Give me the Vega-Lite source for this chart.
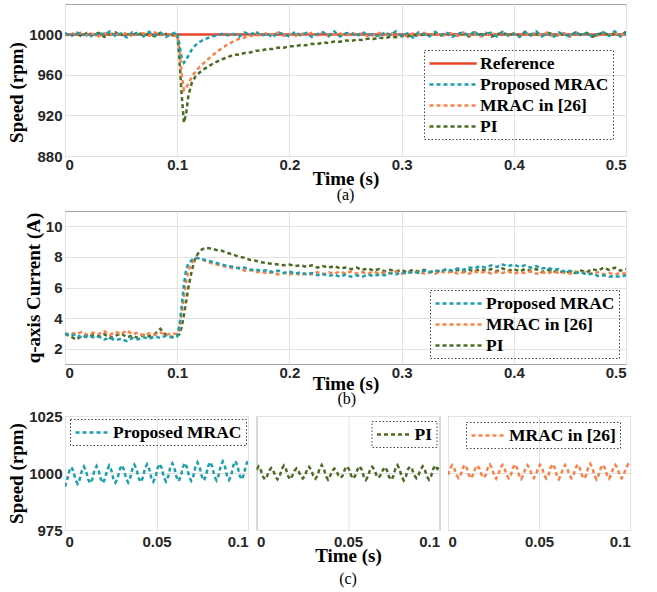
{
"$schema": "https://vega.github.io/schema/vega-lite/v6.json",
"background": "white",
"padding": {"left": 7, "top": 3, "right": 17, "bottom": 8},
"config": {
 "font": "Liberation Sans",
 "view": {"stroke": "#a3a3a3", "strokeWidth": 1},
 "axis": {"domain": false, "ticks": false, "grid": true, "gridColor": "#e2e2e2", "gridWidth": 1, "labelFont": "Liberation Sans", "labelFontWeight": "bold", "labelFontSize": 15, "labelColor": "#262626", "titleFont": "Liberation Serif", "titleFontWeight": "bold", "titleFontSize": 19, "titleColor": "black", "labelPadding": 3, "titlePadding": 2},
 "axisX": {"labelPadding": 1, "titlePadding": -3, "titleFontSize": 19},
 "legend": {"strokeColor": "#444", "strokeDash": [1.5, 2], "padding": 4, "labelFont": "Liberation Serif", "labelFontWeight": "bold", "labelFontSize": 17.5, "labelColor": "black", "symbolStrokeWidth": 2.5, "symbolSize": 256, "rowPadding": 3, "title": null},
 "title": {"font": "Liberation Serif", "fontWeight": "normal", "fontSize": 16, "color": "black"}
},
"datasets": {
"a": [
{"t":0,"R":1000,"P":1001.5,"M":999,"I":1000.5},
{"t":0.005,"R":1000,"P":998,"M":1001.5,"I":998.5},
{"t":0.01,"R":1000,"P":1002.5,"M":999.5,"I":1001},
{"t":0.015,"R":1000,"P":999,"M":1002,"I":998},
{"t":0.02,"R":1000,"P":1000.5,"M":998.5,"I":1002},
{"t":0.025,"R":1000,"P":997.5,"M":1000.5,"I":999.5},
{"t":0.03,"R":1000,"P":1002,"M":998,"I":1001.5},
{"t":0.035,"R":1000,"P":999.5,"M":1001,"I":997.5},
{"t":0.04,"R":1000,"P":1003,"M":1000,"I":1000},
{"t":0.045,"R":1000,"P":998.5,"M":1001.5,"I":1002},
{"t":0.05,"R":1000,"P":1001,"M":999,"I":999},
{"t":0.055,"R":1000,"P":997,"M":1002,"I":1001},
{"t":0.06,"R":1000,"P":1002,"M":998,"I":998.5},
{"t":0.065,"R":1000,"P":1000,"M":1000.5,"I":1002.5},
{"t":0.07,"R":1000,"P":998,"M":1001,"I":999},
{"t":0.075,"R":1000,"P":1002.5,"M":998.5,"I":1000.5},
{"t":0.08,"R":1000,"P":999,"M":1002,"I":998},
{"t":0.085,"R":1000,"P":1001.5,"M":999.5,"I":1001.5},
{"t":0.09,"R":1000,"P":997.5,"M":1001,"I":1000.5},
{"t":0.095,"R":1000,"P":1000.5,"M":998,"I":998.5},
{"t":0.1,"R":1000,"P":1002,"M":999,"I":1001},
{"t":0.102,"R":1000,"P":990,"M":985,"I":975},
{"t":0.104,"R":1000,"P":977,"M":960,"I":940},
{"t":0.106,"R":1000,"P":972,"M":945,"I":913},
{"t":0.108,"R":1000,"P":975,"M":947,"I":922},
{"t":0.11,"R":1000,"P":979,"M":952,"I":940},
{"t":0.113,"R":1000,"P":985,"M":958,"I":952},
{"t":0.116,"R":1000,"P":989,"M":963,"I":958},
{"t":0.12,"R":1000,"P":992.5,"M":968,"I":962.5},
{"t":0.125,"R":1000,"P":995.5,"M":973,"I":966.5},
{"t":0.13,"R":1000,"P":997.5,"M":978,"I":970},
{"t":0.135,"R":1000,"P":999,"M":982.5,"I":973},
{"t":0.14,"R":1000,"P":1000.5,"M":986.5,"I":975.5},
{"t":0.145,"R":1000,"P":999,"M":990,"I":977.5},
{"t":0.15,"R":1000,"P":1000.5,"M":993,"I":979.8},
{"t":0.155,"R":1000,"P":997.5,"M":995.5,"I":980.2},
{"t":0.16,"R":1000,"P":1002,"M":997,"I":981.6},
{"t":0.165,"R":1000,"P":999.5,"M":998.5,"I":982.2},
{"t":0.17,"R":1000,"P":1003,"M":999.5,"I":983.8},
{"t":0.175,"R":1000,"P":998.5,"M":999,"I":984},
{"t":0.18,"R":1000,"P":1001,"M":1001.5,"I":985.6},
{"t":0.185,"R":1000,"P":997,"M":999.5,"I":985.5},
{"t":0.19,"R":1000,"P":1002,"M":1002,"I":987},
{"t":0.195,"R":1000,"P":1000,"M":998.5,"I":986.8},
{"t":0.2,"R":1000,"P":998,"M":1000.5,"I":988.4},
{"t":0.205,"R":1000,"P":1002.5,"M":998,"I":988.2},
{"t":0.21,"R":1000,"P":999,"M":1001,"I":989.5},
{"t":0.215,"R":1000,"P":1001.5,"M":1000,"I":989.3},
{"t":0.22,"R":1000,"P":997.5,"M":1001.5,"I":990.7},
{"t":0.225,"R":1000,"P":1000.5,"M":999,"I":990.5},
{"t":0.23,"R":1000,"P":1002,"M":1002,"I":992},
{"t":0.235,"R":1000,"P":998.5,"M":998,"I":991.6},
{"t":0.24,"R":1000,"P":1003,"M":1000.5,"I":993},
{"t":0.245,"R":1000,"P":998,"M":1001,"I":992.7},
{"t":0.25,"R":1000,"P":1001,"M":998.5,"I":994},
{"t":0.255,"R":1000,"P":1001.5,"M":1002,"I":993.5},
{"t":0.26,"R":1000,"P":998,"M":999.5,"I":994.8},
{"t":0.265,"R":1000,"P":1002.5,"M":1001,"I":994.5},
{"t":0.27,"R":1000,"P":999,"M":998,"I":995.8},
{"t":0.275,"R":1000,"P":1000.5,"M":999,"I":995.4},
{"t":0.28,"R":1000,"P":997.5,"M":1001.5,"I":996.8},
{"t":0.285,"R":1000,"P":1002,"M":999.5,"I":996.2},
{"t":0.29,"R":1000,"P":999.5,"M":1002,"I":997.7},
{"t":0.295,"R":1000,"P":1003,"M":998.5,"I":997.2},
{"t":0.3,"R":1000,"P":998.5,"M":1000.5,"I":998.6},
{"t":0.305,"R":1000,"P":1001,"M":998,"I":998},
{"t":0.31,"R":1000,"P":997,"M":1001,"I":999.5},
{"t":0.315,"R":1000,"P":1002,"M":1000,"I":998.6},
{"t":0.32,"R":1000,"P":1000,"M":1001.5,"I":1000.2},
{"t":0.325,"R":1000,"P":998,"M":999,"I":999},
{"t":0.33,"R":1000,"P":1002.5,"M":1002,"I":1000.8},
{"t":0.335,"R":1000,"P":999,"M":998,"I":999.2},
{"t":0.34,"R":1000,"P":1001.5,"M":1000.5,"I":1001},
{"t":0.345,"R":1000,"P":997.5,"M":1001,"I":1000.5},
{"t":0.35,"R":1000,"P":1000.5,"M":998.5,"I":998.5},
{"t":0.355,"R":1000,"P":1002,"M":1002,"I":1001},
{"t":0.36,"R":1000,"P":998.5,"M":999.5,"I":998},
{"t":0.365,"R":1000,"P":1003,"M":1001,"I":1002},
{"t":0.37,"R":1000,"P":998,"M":998,"I":999.5},
{"t":0.375,"R":1000,"P":1001,"M":999,"I":1001.5},
{"t":0.38,"R":1000,"P":1001.5,"M":1001.5,"I":997.5},
{"t":0.385,"R":1000,"P":998,"M":999.5,"I":1000},
{"t":0.39,"R":1000,"P":1002.5,"M":1002,"I":1002},
{"t":0.395,"R":1000,"P":999,"M":998.5,"I":999},
{"t":0.4,"R":1000,"P":1000.5,"M":1000.5,"I":1001},
{"t":0.405,"R":1000,"P":997.5,"M":998,"I":998.5},
{"t":0.41,"R":1000,"P":1002,"M":1001,"I":1002.5},
{"t":0.415,"R":1000,"P":999.5,"M":1000,"I":999},
{"t":0.42,"R":1000,"P":1003,"M":1001.5,"I":1000.5},
{"t":0.425,"R":1000,"P":998.5,"M":999,"I":998},
{"t":0.43,"R":1000,"P":1001,"M":1002,"I":1001.5},
{"t":0.435,"R":1000,"P":997,"M":998,"I":1000.5},
{"t":0.44,"R":1000,"P":1002,"M":1000.5,"I":998.5},
{"t":0.445,"R":1000,"P":1000,"M":1001,"I":1001},
{"t":0.45,"R":1000,"P":998,"M":998.5,"I":998},
{"t":0.455,"R":1000,"P":1002.5,"M":1002,"I":1002},
{"t":0.46,"R":1000,"P":999,"M":999.5,"I":999.5},
{"t":0.465,"R":1000,"P":1001.5,"M":1001,"I":1001.5},
{"t":0.47,"R":1000,"P":997.5,"M":998,"I":997.5},
{"t":0.475,"R":1000,"P":1000.5,"M":999,"I":1000},
{"t":0.48,"R":1000,"P":1002,"M":1001.5,"I":1002},
{"t":0.485,"R":1000,"P":998.5,"M":999.5,"I":999},
{"t":0.49,"R":1000,"P":1003,"M":1002,"I":1001},
{"t":0.495,"R":1000,"P":998,"M":998.5,"I":998.5},
{"t":0.5,"R":1000,"P":1001,"M":1000.5,"I":1002.5}
],
"b": [
{"t":0,"P":3.0,"M":2.9,"I":2.95},
{"t":0.005,"P":2.85,"M":3.05,"I":2.8},
{"t":0.01,"P":2.95,"M":2.95,"I":2.6},
{"t":0.015,"P":2.7,"M":3.1,"I":2.85},
{"t":0.02,"P":2.85,"M":2.9,"I":2.75},
{"t":0.025,"P":2.75,"M":3.05,"I":2.9},
{"t":0.03,"P":2.8,"M":2.95,"I":2.8},
{"t":0.035,"P":2.6,"M":3.15,"I":2.95},
{"t":0.04,"P":2.7,"M":2.9,"I":2.7},
{"t":0.045,"P":2.55,"M":3.1,"I":2.85},
{"t":0.05,"P":2.65,"M":2.95,"I":3.0},
{"t":0.055,"P":2.5,"M":3.2,"I":2.75},
{"t":0.06,"P":2.7,"M":2.95,"I":2.85},
{"t":0.065,"P":2.6,"M":3.05,"I":2.7},
{"t":0.07,"P":2.75,"M":2.85,"I":2.9},
{"t":0.075,"P":2.65,"M":3.0,"I":2.8},
{"t":0.08,"P":2.8,"M":2.9,"I":2.95},
{"t":0.085,"P":2.7,"M":3.05,"I":3.3},
{"t":0.09,"P":2.85,"M":2.9,"I":2.9},
{"t":0.095,"P":2.75,"M":3.0,"I":2.75},
{"t":0.1,"P":2.8,"M":2.95,"I":2.85},
{"t":0.102,"P":3.5,"M":3.3,"I":2.95},
{"t":0.104,"P":4.8,"M":4.3,"I":3.4},
{"t":0.106,"P":6.2,"M":5.4,"I":4.2},
{"t":0.108,"P":7.2,"M":6.4,"I":5.1},
{"t":0.11,"P":7.55,"M":7.1,"I":6.0},
{"t":0.113,"P":7.8,"M":7.6,"I":7.1},
{"t":0.116,"P":7.95,"M":7.95,"I":7.9},
{"t":0.12,"P":7.9,"M":7.9,"I":8.4},
{"t":0.125,"P":7.8,"M":7.75,"I":8.6},
{"t":0.13,"P":7.7,"M":7.6,"I":8.55},
{"t":0.135,"P":7.6,"M":7.5,"I":8.45},
{"t":0.14,"P":7.5,"M":7.4,"I":8.4},
{"t":0.145,"P":7.4,"M":7.35,"I":8.25},
{"t":0.15,"P":7.35,"M":7.25,"I":8.15},
{"t":0.155,"P":7.25,"M":7.3,"I":8.0},
{"t":0.16,"P":7.3,"M":7.1,"I":7.95},
{"t":0.165,"P":7.15,"M":7.15,"I":7.8},
{"t":0.17,"P":7.2,"M":7.0,"I":7.75},
{"t":0.175,"P":7.05,"M":7.05,"I":7.65},
{"t":0.18,"P":7.15,"M":6.9,"I":7.6},
{"t":0.185,"P":7.0,"M":7.0,"I":7.55},
{"t":0.19,"P":7.1,"M":6.85,"I":7.5},
{"t":0.195,"P":6.95,"M":6.95,"I":7.45},
{"t":0.2,"P":7.05,"M":6.85,"I":7.5},
{"t":0.205,"P":6.9,"M":6.95,"I":7.4},
{"t":0.21,"P":7.0,"M":6.8,"I":7.45},
{"t":0.215,"P":6.85,"M":6.95,"I":7.35},
{"t":0.22,"P":6.95,"M":6.85,"I":7.45},
{"t":0.225,"P":6.8,"M":7.0,"I":7.3},
{"t":0.23,"P":6.9,"M":6.85,"I":7.4},
{"t":0.235,"P":6.75,"M":7.0,"I":7.3},
{"t":0.24,"P":6.85,"M":6.9,"I":7.4},
{"t":0.245,"P":6.7,"M":7.05,"I":7.25},
{"t":0.25,"P":6.85,"M":6.9,"I":7.3},
{"t":0.255,"P":6.7,"M":7.05,"I":7.2},
{"t":0.26,"P":6.8,"M":6.9,"I":7.3},
{"t":0.265,"P":6.7,"M":7.0,"I":7.15},
{"t":0.27,"P":6.85,"M":6.9,"I":7.25},
{"t":0.275,"P":6.75,"M":7.05,"I":7.1},
{"t":0.28,"P":6.85,"M":6.9,"I":7.2},
{"t":0.285,"P":6.8,"M":7.0,"I":7.05},
{"t":0.29,"P":6.95,"M":6.9,"I":7.15},
{"t":0.295,"P":6.85,"M":7.05,"I":7.05},
{"t":0.3,"P":7.0,"M":6.9,"I":7.15},
{"t":0.305,"P":6.9,"M":7.0,"I":7.0},
{"t":0.31,"P":7.05,"M":6.95,"I":7.15},
{"t":0.315,"P":6.95,"M":7.05,"I":7.05},
{"t":0.32,"P":7.1,"M":6.9,"I":7.15},
{"t":0.325,"P":7.0,"M":7.0,"I":7.0},
{"t":0.33,"P":7.1,"M":6.9,"I":7.1},
{"t":0.335,"P":7.05,"M":7.05,"I":7.05},
{"t":0.34,"P":7.2,"M":6.95,"I":7.2},
{"t":0.345,"P":7.1,"M":7.05,"I":7.05},
{"t":0.35,"P":7.25,"M":6.9,"I":7.15},
{"t":0.355,"P":7.15,"M":7.0,"I":7.0},
{"t":0.36,"P":7.3,"M":6.9,"I":7.15},
{"t":0.365,"P":7.25,"M":7.05,"I":7.05},
{"t":0.37,"P":7.4,"M":6.95,"I":7.2},
{"t":0.375,"P":7.3,"M":7.05,"I":7.1},
{"t":0.38,"P":7.45,"M":6.9,"I":7.2},
{"t":0.385,"P":7.35,"M":7.0,"I":7.05},
{"t":0.39,"P":7.5,"M":6.95,"I":7.25},
{"t":0.395,"P":7.4,"M":7.05,"I":7.1},
{"t":0.4,"P":7.5,"M":6.9,"I":7.2},
{"t":0.405,"P":7.35,"M":7.0,"I":7.05},
{"t":0.41,"P":7.45,"M":6.95,"I":7.2},
{"t":0.415,"P":7.3,"M":7.05,"I":7.1},
{"t":0.42,"P":7.4,"M":6.9,"I":7.2},
{"t":0.425,"P":7.25,"M":7.0,"I":7.0},
{"t":0.43,"P":7.3,"M":6.9,"I":7.15},
{"t":0.435,"P":7.15,"M":7.05,"I":7.0},
{"t":0.44,"P":7.2,"M":6.95,"I":7.1},
{"t":0.445,"P":7.05,"M":7.0,"I":6.95},
{"t":0.45,"P":7.1,"M":6.9,"I":7.05},
{"t":0.455,"P":6.95,"M":7.05,"I":6.95},
{"t":0.46,"P":7.0,"M":6.95,"I":7.1},
{"t":0.465,"P":6.85,"M":7.0,"I":7.0},
{"t":0.47,"P":6.9,"M":6.9,"I":7.2},
{"t":0.475,"P":6.75,"M":7.0,"I":7.1},
{"t":0.48,"P":6.8,"M":6.85,"I":7.3},
{"t":0.485,"P":6.7,"M":6.95,"I":7.15},
{"t":0.49,"P":6.75,"M":6.85,"I":7.3},
{"t":0.495,"P":6.7,"M":6.95,"I":7.1},
{"t":0.5,"P":6.8,"M":6.9,"I":7.2}
],
"c": [
{"t":0,"P":994,"I":1001.4,"M":999.2},
{"t":0.00115,"P":997.0,"I":1002.8,"M":1002.0},
{"t":0.0023,"P":1000.8,"I":1001.4,"M":1003.4},
{"t":0.00345,"P":1002.6,"I":998.6,"M":1002.0},
{"t":0.0046,"P":1000.8,"I":997.2,"M":999.2},
{"t":0.00575,"P":997.0,"I":998.6,"M":997.8},
{"t":0.0069,"P":995.3,"I":1001.0,"M":999.1},
{"t":0.00805,"P":997.2,"I":1002.2,"M":1002.1},
{"t":0.0092,"P":1000.9,"I":1001.0,"M":1003.6},
{"t":0.01034,"P":1002.8,"I":998.5,"M":1002.1},
{"t":0.01149,"P":1000.9,"I":997.2,"M":999.1},
{"t":0.01264,"P":997.2,"I":998.5,"M":997.6},
{"t":0.01379,"P":995.5,"I":1001.7,"M":999.3},
{"t":0.01494,"P":997.4,"I":1003.2,"M":1001.9},
{"t":0.01609,"P":1001.1,"I":1001.7,"M":1003.3},
{"t":0.01724,"P":1003.0,"I":998.7,"M":1001.9},
{"t":0.01839,"P":1001.1,"I":997.2,"M":999.3},
{"t":0.01954,"P":997.4,"I":998.7,"M":997.9},
{"t":0.02069,"P":995.6,"I":1000.9,"M":999.1},
{"t":0.02184,"P":997.5,"I":1002.0,"M":1002.2},
{"t":0.02299,"P":1001.3,"I":1000.9,"M":1003.7},
{"t":0.02414,"P":1003.2,"I":998.7,"M":1002.2},
{"t":0.02529,"P":1001.3,"I":997.6,"M":999.1},
{"t":0.02644,"P":997.5,"I":998.7,"M":997.5},
{"t":0.02759,"P":995.8,"I":1001.4,"M":999.2},
{"t":0.02874,"P":997.7,"I":1002.7,"M":1002.1},
{"t":0.02989,"P":1001.5,"I":1001.4,"M":1003.5},
{"t":0.03103,"P":1003.4,"I":998.8,"M":1002.1},
{"t":0.03218,"P":1001.5,"I":997.5,"M":999.2},
{"t":0.03333,"P":997.7,"I":998.8,"M":997.7},
{"t":0.03448,"P":995.9,"I":1001.9,"M":999.0},
{"t":0.03563,"P":997.8,"I":1003.5,"M":1002.2},
{"t":0.03678,"P":1001.7,"I":1001.9,"M":1003.8},
{"t":0.03793,"P":1003.6,"I":998.7,"M":1002.2},
{"t":0.03908,"P":1001.7,"I":997.1,"M":999.0},
{"t":0.04023,"P":997.8,"I":998.7,"M":997.4},
{"t":0.04138,"P":996.0,"I":1000.9,"M":999.2},
{"t":0.04253,"P":998.0,"I":1001.9,"M":1002.0},
{"t":0.04368,"P":1001.9,"I":1000.9,"M":1003.4},
{"t":0.04483,"P":1003.8,"I":998.9,"M":1002.0},
{"t":0.04598,"P":1001.9,"I":997.9,"M":999.2},
{"t":0.04713,"P":998.0,"I":998.9,"M":997.8},
{"t":0.04828,"P":996.2,"I":1001.6,"M":999.1},
{"t":0.04943,"P":998.1,"I":1002.9,"M":1002.1},
{"t":0.05057,"P":1002.1,"I":1001.6,"M":1003.6},
{"t":0.05172,"P":1004.0,"I":998.9,"M":1002.1},
{"t":0.05287,"P":1002.1,"I":997.5,"M":999.1},
{"t":0.05402,"P":998.1,"I":998.9,"M":997.6},
{"t":0.05517,"P":996.3,"I":1001.5,"M":999.0},
{"t":0.05632,"P":998.3,"I":1003.0,"M":1002.3},
{"t":0.05747,"P":1002.2,"I":1001.5,"M":1003.9},
{"t":0.05862,"P":1004.2,"I":998.5,"M":1002.3},
{"t":0.05977,"P":1002.2,"I":997.0,"M":999.0},
{"t":0.06092,"P":998.3,"I":998.5,"M":997.3},
{"t":0.06207,"P":996.4,"I":1001.5,"M":999.2},
{"t":0.06322,"P":998.4,"I":1002.7,"M":1002.1},
{"t":0.06437,"P":1002.4,"I":1001.5,"M":1003.5},
{"t":0.06552,"P":1004.4,"I":999.1,"M":1002.1},
{"t":0.06667,"P":1002.4,"I":997.9,"M":999.2},
{"t":0.06782,"P":998.4,"I":999.1,"M":997.7},
{"t":0.06897,"P":996.6,"I":1001.2,"M":999.1},
{"t":0.07011,"P":998.6,"I":1002.6,"M":1002.2},
{"t":0.07126,"P":1002.6,"I":1001.2,"M":1003.7},
{"t":0.07241,"P":1004.6,"I":998.4,"M":1002.2},
{"t":0.07356,"P":1002.6,"I":997.0,"M":999.1},
{"t":0.07471,"P":998.6,"I":998.4,"M":997.5},
{"t":0.07586,"P":996.7,"I":1001.8,"M":998.9},
{"t":0.07701,"P":998.7,"I":1003.4,"M":1002.3},
{"t":0.07816,"P":1002.8,"I":1001.8,"M":1004.0},
{"t":0.07931,"P":1004.8,"I":998.5,"M":1002.3},
{"t":0.08046,"P":1002.8,"I":996.8,"M":998.9},
{"t":0.08161,"P":998.7,"I":998.5,"M":997.2},
{"t":0.08276,"P":996.8,"I":1001.6,"M":999.1},
{"t":0.08391,"P":998.9,"I":1002.8,"M":1002.1},
{"t":0.08506,"P":1003.0,"I":1001.6,"M":1003.6},
{"t":0.08621,"P":1005.0,"I":999.1,"M":1002.1},
{"t":0.08736,"P":1003.0,"I":997.8,"M":999.1},
{"t":0.08851,"P":998.9,"I":999.1,"M":997.6},
{"t":0.08966,"P":997.0,"I":1001.5,"M":999.2},
{"t":0.0908,"P":999.0,"I":1002.9,"M":1002.1},
{"t":0.09195,"P":1003.2,"I":1001.5,"M":1003.5},
{"t":0.0931,"P":1005.2,"I":998.6,"M":1002.1},
{"t":0.09425,"P":1003.2,"I":997.1,"M":999.2},
{"t":0.0954,"P":999.0,"I":998.6,"M":997.7},
{"t":0.09655,"P":997.1,"I":1001.8,"M":999.1},
{"t":0.0977,"P":999.2,"I":1003.3,"M":1002.2},
{"t":0.09885,"P":1003.4,"I":1001.8,"M":1003.7},
{"t":0.1,"P":1005.5,"I":1002.5,"M":1002.2}
]
},
"spacing": -3,
"resolve": {"scale": {"color": "independent", "strokeDash": "independent"}},
"vconcat": [
{
 "width": 561, "height": 152,
 "data": {"name": "a"},
 "transform": [{"fold": ["R", "I", "M", "P"], "as": ["s", "v"]}],
 "mark": {"type": "line", "strokeWidth": 2.5, "clip": true},
 "encoding": {
  "x": {"field": "t", "type": "quantitative", "scale": {"domain": [0, 0.5], "nice": false}, "axis": {"values": [0, 0.1, 0.2, 0.3, 0.4, 0.5], "format": "~g", "title": "Time (s)"}},
  "y": {"field": "v", "type": "quantitative", "scale": {"domain": [880, 1030], "nice": false, "zero": false}, "axis": {"values": [880, 920, 960, 1000], "format": "d", "title": "Speed (rpm)", "titleY": 88}},
  "color": {"field": "s", "type": "nominal", "scale": {"domain": ["R", "P", "M", "I"], "range": ["#e8452c", "#1b9fad", "#fa8249", "#4e6b24"]},
   "legend": {"orient": "none", "legendX": 359, "legendY": 46, "symbolType": "M-1,0H4.9", "labelOffset": 33, "labelExpr": "datum.label == 'R' ? 'Reference' : datum.label == 'P' ? 'Proposed MRAC' : datum.label == 'M' ? 'MRAC in [26]' : 'PI'"}},
  "strokeDash": {"field": "s", "type": "nominal", "scale": {"domain": ["R", "P", "M", "I"], "range": [[1, 0], [4, 3], [4, 3], [4, 3]]},
   "legend": {"orient": "none", "legendX": 359, "legendY": 46, "symbolType": "M-1,0H4.9", "labelOffset": 33, "labelExpr": "datum.label == 'R' ? 'Reference' : datum.label == 'P' ? 'Proposed MRAC' : datum.label == 'M' ? 'MRAC in [26]' : 'PI'"}}
 }
},
{
 "width": 561, "height": 153,
 "title": {"text": "(a)", "orient": "top", "offset": 8},
 "data": {"name": "b"},
 "transform": [{"fold": ["I", "M", "P"], "as": ["s", "v"]}],
 "mark": {"type": "line", "strokeWidth": 2.5, "strokeDash": [4, 3], "clip": true},
 "encoding": {
  "x": {"field": "t", "type": "quantitative", "scale": {"domain": [0, 0.5], "nice": false}, "axis": {"values": [0, 0.1, 0.2, 0.3, 0.4, 0.5], "format": "~g", "title": "Time (s)", "titlePadding": -6}},
  "y": {"field": "v", "type": "quantitative", "scale": {"domain": [1, 11], "nice": false, "zero": false}, "axis": {"values": [2, 4, 6, 8, 10], "format": "d", "title": "q-axis Current (A)"}},
  "color": {"field": "s", "type": "nominal", "scale": {"domain": ["P", "M", "I"], "range": ["#1b9fad", "#fa8249", "#4e6b24"]},
   "legend": {"orient": "none", "legendX": 365, "legendY": 79, "symbolType": "M-1,0H4.9", "labelOffset": 33, "symbolDash": [4, 3], "labelExpr": "datum.label == 'P' ? 'Proposed MRAC' : datum.label == 'M' ? 'MRAC in [26]' : 'PI'"}}
 }
},
{
 "spacing": 6.5,
 "resolve": {"scale": {"color": "independent"}},
 "title": {"text": "(b)", "orient": "top", "offset": 1.5, "anchor": "middle", "dx": 28},
 "hconcat": [
 {
  "width": 183, "height": 114,
  "data": {"name": "c"},
  "transform": [{"fold": ["P"], "as": ["s", "v"]}],
  "mark": {"type": "line", "strokeWidth": 2.5, "strokeDash": [4, 3], "clip": true},
  "encoding": {
   "x": {"field": "t", "type": "quantitative", "scale": {"domain": [0, 0.1], "nice": false}, "axis": {"values": [0, 0.05, 0.1], "format": "~g", "labelFlush": true, "labelPadding": 4, "title": null}},
   "y": {"field": "v", "type": "quantitative", "scale": {"domain": [975, 1025], "nice": false, "zero": false}, "axis": {"values": [975, 1000, 1025], "format": "d", "title": "Speed (rpm)"}},
   "color": {"field": "s", "type": "nominal", "scale": {"domain": ["P"], "range": ["#1b9fad"]},
    "legend": {"orient": "none", "legendX": 5, "legendY": 3, "symbolType": "M-1,0H3.25", "labelOffset": 20, "symbolDash": [4, 3], "labelExpr": "'Proposed MRAC'"}}
  }
 },
 {
  "width": 183, "height": 114,
  "title": {"text": "(c)", "orient": "bottom", "offset": 6},
  "data": {"name": "c"},
  "transform": [{"fold": ["I"], "as": ["s", "v"]}],
  "mark": {"type": "line", "strokeWidth": 2.5, "strokeDash": [4, 3], "clip": true},
  "encoding": {
   "x": {"field": "t", "type": "quantitative", "scale": {"domain": [0, 0.1], "nice": false}, "axis": {"values": [0, 0.05, 0.1], "format": "~g", "labelFlush": true, "labelPadding": 4, "title": "Time (s)"}},
   "y": {"field": "v", "type": "quantitative", "scale": {"domain": [975, 1025], "nice": false, "zero": false}, "axis": {"values": [975, 1000, 1025], "labels": false, "labelPadding": 0, "titlePadding": 0, "title": null}},
   "color": {"field": "s", "type": "nominal", "scale": {"domain": ["I"], "range": ["#4e6b24"]},
    "legend": {"orient": "none", "legendX": 115, "legendY": 5, "symbolType": "M-1,0H3.25", "labelOffset": 20, "symbolDash": [4, 3], "labelExpr": "'PI'"}}
  }
 },
 {
  "width": 182, "height": 114,
  "data": {"name": "c"},
  "transform": [{"fold": ["M"], "as": ["s", "v"]}],
  "mark": {"type": "line", "strokeWidth": 2.5, "strokeDash": [4, 3], "clip": true},
  "encoding": {
   "x": {"field": "t", "type": "quantitative", "scale": {"domain": [0, 0.1], "nice": false}, "axis": {"values": [0, 0.05, 0.1], "format": "~g", "labelFlush": true, "labelPadding": 4, "title": null}},
   "y": {"field": "v", "type": "quantitative", "scale": {"domain": [975, 1025], "nice": false, "zero": false}, "axis": {"values": [975, 1000, 1025], "labels": false, "labelPadding": 0, "titlePadding": 0, "title": null}},
   "color": {"field": "s", "type": "nominal", "scale": {"domain": ["M"], "range": ["#fa8249"]},
    "legend": {"orient": "none", "legendX": 18, "legendY": 6, "symbolType": "M-1,0H3.25", "labelOffset": 20, "symbolDash": [4, 3], "labelExpr": "'MRAC in [26]'"}}
  }
 }
 ]
}
]
}
